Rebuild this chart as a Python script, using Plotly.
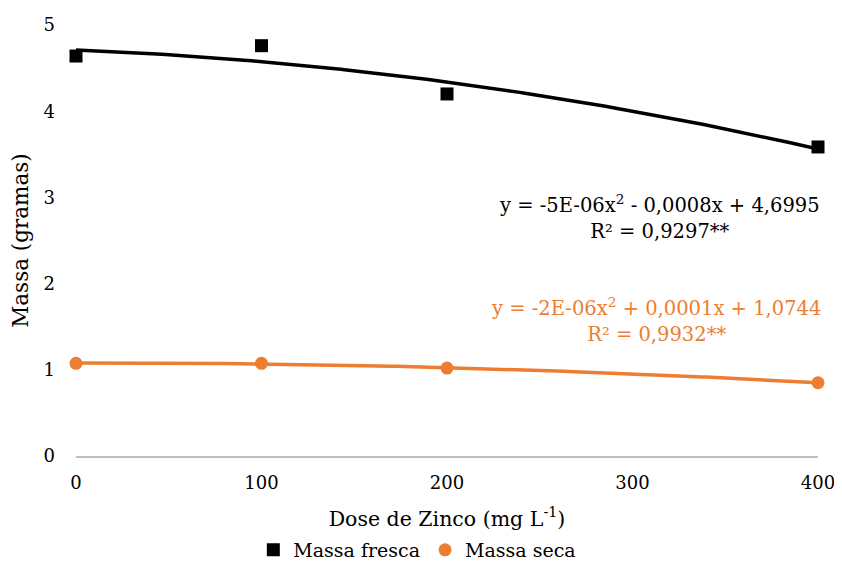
import numpy as np
import plotly.graph_objects as go

doses = [0, 100, 200, 400]
massa_fresca = [4.64, 4.76, 4.20, 3.585]
massa_seca = [1.075, 1.075, 1.02, 0.85]
x_ticks = [0, 100, 200, 300, 400]
y_ticks = [0, 1, 2, 3, 4, 5]

eq_fresca = "y = -5E-06x<sup>2</sup> - 0,0008x + 4,6995<br>R² = 0,9297**"
eq_seca = "y = -2E-06x<sup>2</sup> + 0,0001x + 1,0744<br>R² = 0,9932**"

BLACK = "#000000"
ORANGE = "#ED7D31"
FONT = "DejaVu Serif"

xs = np.linspace(min(doses), max(doses), 200)
fit_f = np.polyval(np.polyfit(doses, massa_fresca, 2), xs)
fit_s = np.polyval(np.polyfit(doses, massa_seca, 2), xs)

fig = go.Figure()
fig.add_trace(go.Scatter(x=xs, y=fit_f, mode="lines", line=dict(color=BLACK, width=3.5),
                         showlegend=False, hoverinfo="skip", cliponaxis=False))
fig.add_trace(go.Scatter(x=xs, y=fit_s, mode="lines", line=dict(color=ORANGE, width=3.5),
                         showlegend=False, hoverinfo="skip", cliponaxis=False))
fig.add_trace(go.Scatter(x=doses, y=massa_fresca, mode="markers", name="Massa fresca",
                         marker=dict(symbol="square", color=BLACK, size=13), cliponaxis=False))
fig.add_trace(go.Scatter(x=doses, y=massa_seca, mode="markers", name="Massa seca",
                         marker=dict(symbol="circle", color=ORANGE, size=13), cliponaxis=False))

fig.add_annotation(x=0.787, y=0.5545, xref="paper", yref="paper", text=eq_fresca,
                   xanchor="center", yanchor="middle", showarrow=False,
                   font=dict(family=FONT, size=19.5, color=BLACK), align="center")
fig.add_annotation(x=0.782, y=0.3155, xref="paper", yref="paper", text=eq_seca,
                   xanchor="center", yanchor="middle", showarrow=False,
                   font=dict(family=FONT, size=19.5, color=ORANGE), align="center")

fig.update_layout(
    width=842, height=563,
    margin=dict(l=68, r=32, t=17, b=115, autoexpand=False),
    paper_bgcolor="white", plot_bgcolor="white",
    font=dict(family=FONT, size=18, color="#000000"),
    xaxis=dict(range=[0, 400], tickvals=x_ticks, showgrid=False, zeroline=False,
               showline=True, linecolor="#BFBFBF", linewidth=1.5, ticks="",
               automargin=False, ticklabelstandoff=10,
               tickfont=dict(family=FONT, size=18),
               title=dict(text="Dose de Zinco (mg L<sup>-1</sup>)", standoff=20,
                          font=dict(family=FONT, size=20.5))),
    yaxis=dict(range=[0, 5], tickvals=y_ticks, showgrid=False, zeroline=False,
               showline=False, ticks="", ticklabelstandoff=20, automargin=False,
               tickfont=dict(family=FONT, size=18),
               title=dict(text="Massa (gramas)", standoff=16,
                          font=dict(family=FONT, size=21.5))),
    legend=dict(orientation="h", x=0.46, xanchor="center", yref="container",
                y=0.0373, yanchor="middle",
                font=dict(family=FONT, size=19), itemwidth=30, tracegroupgap=0),
)

fig.write_html("out.html")
